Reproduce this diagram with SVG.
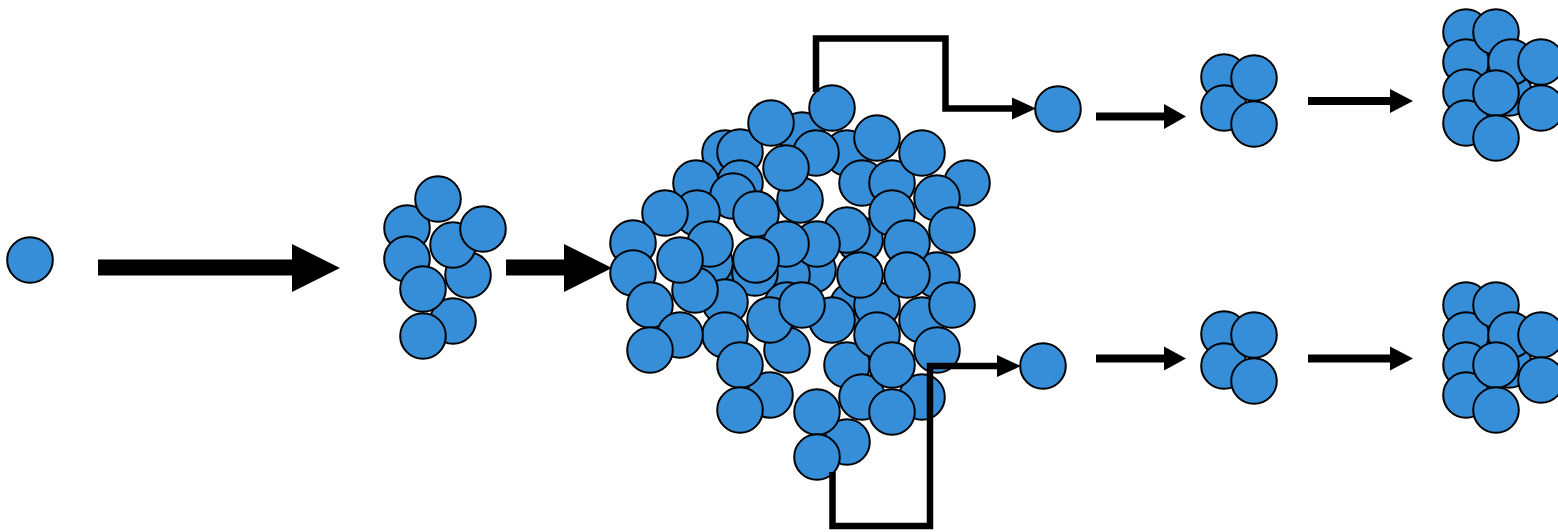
<svg xmlns="http://www.w3.org/2000/svg" width="1558" height="532" viewBox="0 0 1558 532">
  <style>
    .p { fill: #368ED9; stroke: #000; stroke-width: 2; }
    .wire { fill: none; stroke: #000; stroke-width: 6.5; stroke-linejoin: miter; stroke-linecap: butt; }
    .solid { fill: #000; stroke: none; }
  </style>
  <defs>
    <circle id="c" r="22.8"/>
  </defs>
  <rect width="1558" height="532" fill="#fff"/>

  <!-- single particle -->
  <g id="seed">
    <circle class="p" cx="30" cy="260" r="22.8"/>
  </g>

  <!-- small cluster -->
  <g id="cluster-small">
    <circle class="p" cx="407" cy="228" r="22.8"/>
    <circle class="p" cx="438" cy="199" r="22.8"/>
    <circle class="p" cx="468" cy="275" r="22.8"/>
    <circle class="p" cx="453" cy="245" r="22.8"/>
    <circle class="p" cx="483" cy="229" r="22.8"/>
    <circle class="p" cx="407" cy="259" r="22.8"/>
    <circle class="p" cx="453" cy="321" r="22.8"/>
    <circle class="p" cx="423" cy="289" r="22.8"/>
    <circle class="p" cx="423" cy="336" r="22.8"/>
  </g>

  <!-- large aggregate -->
  <g id="cluster-large">
    <circle class="p" cx="802" cy="135" r="22.8"/>
    <circle class="p" cx="725" cy="153" r="22.8"/>
    <circle class="p" cx="740" cy="152" r="22.8"/>
    <circle class="p" cx="847" cy="153" r="22.8"/>
    <circle class="p" cx="862" cy="183" r="22.8"/>
    <circle class="p" cx="740" cy="183" r="22.8"/>
    <circle class="p" cx="696" cy="183" r="22.8"/>
    <circle class="p" cx="800" cy="200" r="22.8"/>
    <circle class="p" cx="733" cy="196" r="22.8"/>
    <circle class="p" cx="697" cy="213" r="22.8"/>
    <circle class="p" cx="892" cy="183" r="22.8"/>
    <circle class="p" cx="813" cy="270" r="22.8"/>
    <circle class="p" cx="720" cy="288" r="22.8"/>
    <circle class="p" cx="853" cy="305" r="22.8"/>
    <circle class="p" cx="860" cy="240" r="22.8"/>
    <circle class="p" cx="710" cy="263" r="22.8"/>
    <circle class="p" cx="787" cy="275" r="22.8"/>
    <circle class="p" cx="755" cy="273" r="22.8"/>
    <circle class="p" cx="937" cy="275" r="22.8"/>
    <circle class="p" cx="787" cy="305" r="22.8"/>
    <circle class="p" cx="725" cy="302" r="22.8"/>
    <circle class="p" cx="695" cy="290" r="22.8"/>
    <circle class="p" cx="787" cy="350" r="22.8"/>
    <circle class="p" cx="725" cy="335" r="22.8"/>
    <circle class="p" cx="847" cy="365" r="22.8"/>
    <circle class="p" cx="862" cy="397" r="22.8"/>
    <circle class="p" cx="922" cy="397" r="22.8"/>
    <circle class="p" cx="770" cy="395" r="22.8"/>
    <circle class="p" cx="847" cy="442" r="22.8"/>
    <circle class="p" cx="877" cy="305" r="22.8"/>
    <circle class="p" cx="770" cy="320" r="22.8"/>
    <circle class="p" cx="832" cy="320" r="22.8"/>
    <circle class="p" cx="922" cy="320" r="22.8"/>
    <circle class="p" cx="937" cy="350" r="22.8"/>
    <circle class="p" cx="816" cy="153" r="22.8"/>
    <circle class="p" cx="786" cy="168" r="22.8"/>
    <circle class="p" cx="771" cy="123" r="22.8"/>
    <circle class="p" cx="832" cy="108" r="22.8"/>
    <circle class="p" cx="877" cy="138" r="22.8"/>
    <circle class="p" cx="922" cy="153" r="22.8"/>
    <circle class="p" cx="967" cy="183" r="22.8"/>
    <circle class="p" cx="937" cy="198" r="22.8"/>
    <circle class="p" cx="892" cy="213" r="22.8"/>
    <circle class="p" cx="952" cy="230" r="22.8"/>
    <circle class="p" cx="847" cy="230" r="22.8"/>
    <circle class="p" cx="756" cy="214" r="22.8"/>
    <circle class="p" cx="665" cy="213" r="22.8"/>
    <circle class="p" cx="633" cy="243" r="22.8"/>
    <circle class="p" cx="710" cy="244" r="22.8"/>
    <circle class="p" cx="817" cy="244" r="22.8"/>
    <circle class="p" cx="786" cy="244" r="22.8"/>
    <circle class="p" cx="680" cy="260" r="22.8"/>
    <circle class="p" cx="756" cy="260" r="22.8"/>
    <circle class="p" cx="907" cy="243" r="22.8"/>
    <circle class="p" cx="860" cy="275" r="22.8"/>
    <circle class="p" cx="907" cy="275" r="22.8"/>
    <circle class="p" cx="633" cy="273" r="22.8"/>
    <circle class="p" cx="650" cy="305" r="22.8"/>
    <circle class="p" cx="802" cy="305" r="22.8"/>
    <circle class="p" cx="952" cy="305" r="22.8"/>
    <circle class="p" cx="877" cy="335" r="22.8"/>
    <circle class="p" cx="680" cy="335" r="22.8"/>
    <circle class="p" cx="650" cy="350" r="22.8"/>
    <circle class="p" cx="740" cy="365" r="22.8"/>
    <circle class="p" cx="892" cy="365" r="22.8"/>
    <circle class="p" cx="740" cy="410" r="22.8"/>
    <circle class="p" cx="817" cy="412" r="22.8"/>
    <circle class="p" cx="892" cy="412" r="22.8"/>
    <circle class="p" cx="817" cy="457" r="22.8"/>
  </g>

  <!-- upper branch -->
  <g id="top-single">
    <circle class="p" cx="1058" cy="109" r="22.8"/>
  </g>
  <g id="top-four">
    <circle class="p" cx="1224" cy="77" r="22.8"/>
    <circle class="p" cx="1224" cy="108" r="22.8"/>
    <circle class="p" cx="1254" cy="78" r="22.8"/>
    <circle class="p" cx="1254" cy="124" r="22.8"/>
  </g>
  <g id="top-ten">
    <circle class="p" cx="1491" cy="72" r="22.8"/>
    <circle class="p" cx="1466" cy="32" r="22.8"/>
    <circle class="p" cx="1466" cy="62" r="22.8"/>
    <circle class="p" cx="1466" cy="92" r="22.8"/>
    <circle class="p" cx="1466" cy="123" r="22.8"/>
    <circle class="p" cx="1496" cy="32" r="22.8"/>
    <circle class="p" cx="1509" cy="93" r="22.8"/>
    <circle class="p" cx="1511" cy="62" r="22.8"/>
    <circle class="p" cx="1541" cy="62" r="22.8"/>
    <circle class="p" cx="1541" cy="108" r="22.8"/>
    <circle class="p" cx="1496" cy="93" r="22.8"/>
    <circle class="p" cx="1496" cy="138" r="22.8"/>
  </g>

  <!-- lower branch -->
  <g id="bottom-single">
    <circle class="p" cx="1043" cy="366" r="22.8"/>
  </g>
  <g id="bottom-four">
    <circle class="p" cx="1224" cy="334" r="22.8"/>
    <circle class="p" cx="1224" cy="366" r="22.8"/>
    <circle class="p" cx="1254" cy="335" r="22.8"/>
    <circle class="p" cx="1254" cy="381" r="22.8"/>
  </g>
  <g id="bottom-ten">
    <circle class="p" cx="1491" cy="345" r="22.8"/>
    <circle class="p" cx="1466" cy="305" r="22.8"/>
    <circle class="p" cx="1466" cy="335" r="22.8"/>
    <circle class="p" cx="1466" cy="365" r="22.8"/>
    <circle class="p" cx="1466" cy="395" r="22.8"/>
    <circle class="p" cx="1496" cy="305" r="22.8"/>
    <circle class="p" cx="1509" cy="365" r="22.8"/>
    <circle class="p" cx="1511" cy="335" r="22.8"/>
    <circle class="p" cx="1541" cy="335" r="22.8"/>
    <circle class="p" cx="1541" cy="380" r="22.8"/>
    <circle class="p" cx="1496" cy="365" r="22.8"/>
    <circle class="p" cx="1496" cy="410" r="22.8"/>
  </g>

  <!-- connectors -->
  <g id="connectors">
    <!-- large arrows -->
    <polygon class="solid" points="98,259.5 292,259.5 292,244 340,268 292,292 292,275.5 98,275.5"/>
    <polygon class="solid" points="506,259.5 564,259.5 564,244 612,268 564,292 564,275.5 506,275.5"/>

    <!-- branch lines out of the aggregate -->
    <polyline class="wire" points="816,92 816,38.5 945.5,38.5 945.5,108.5 1014,108.5"/>
    <polygon class="solid" points="1012,97.5 1036,108.5 1012,119.5"/>
    <polyline class="wire" points="832.5,472 832.5,526 930,526 930,366 999,366"/>
    <polygon class="solid" points="997,355 1021,366 997,377"/>

    <!-- growth steps, upper -->
    <polygon class="solid" points="1096,112.5 1164,112.5 1164,104 1186,116.5 1164,129 1164,120.5 1096,120.5"/>
    <polygon class="solid" points="1308,97 1390,97 1390,89 1413,101 1390,113 1390,105 1308,105"/>

    <!-- growth steps, lower -->
    <polygon class="solid" points="1096,354.5 1164,354.5 1164,346.5 1186,358.5 1164,370.5 1164,362.5 1096,362.5"/>
    <polygon class="solid" points="1308,354.5 1390,354.5 1390,346.5 1413,358.5 1390,370.5 1390,362.5 1308,362.5"/>
  </g>
</svg>
